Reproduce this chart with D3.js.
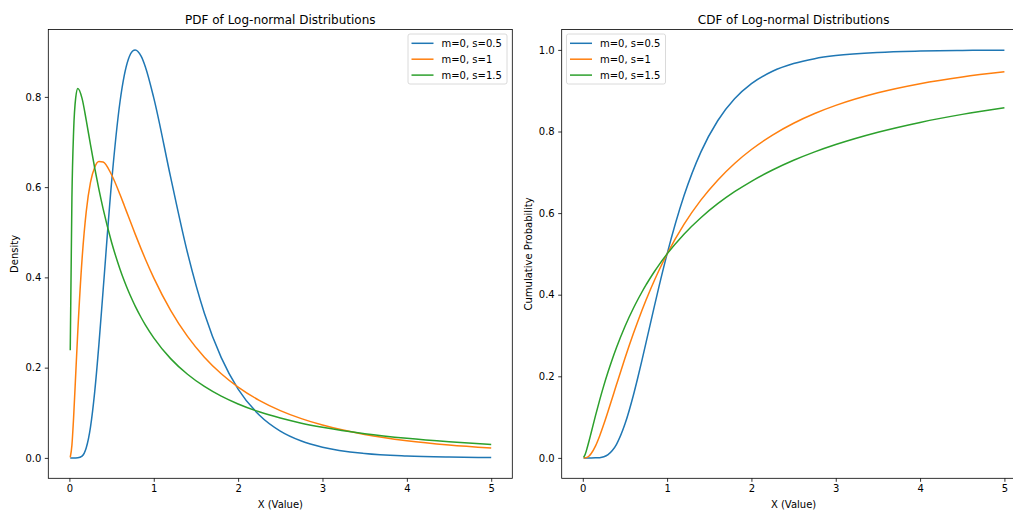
<!DOCTYPE html>
<meta charset="utf-8">
<script src="https://cdn.jsdelivr.net/npm/d3@7"></script>
<style>
  body { margin: 0; background: #fff; overflow: hidden; }
  text { font-family: "DejaVu Sans", sans-serif; fill: #000; }
</style>
<body>
<div id="my_visual"></div>
<script>

// sample x positions
var xs = [0.01, 0.03, 0.05, 0.075, 0.1, 0.15, 0.2, 0.25, 0.3, 0.35, 0.4, 0.5, 0.6, 0.65, 0.7, 0.75, 0.78, 0.85, 0.9,
          1.0, 1.2, 1.4, 1.6, 1.8, 2.0, 2.25, 2.5, 2.75, 3.0, 3.5, 4.0, 4.5, 5.0];

var seriesNames = ["m=0, s=0.5", "m=0, s=1", "m=0, s=1.5"];

// PDF values
var pdfS05 = [0, 0, 0, 0, 0.0002, 0.004, 0.0225, 0.0683, 0.1464, 0.2516, 0.372, 0.6104, 0.7892, 0.8469, 0.8838, 0.9016, 0.9041, 0.8904, 0.867,
              0.7979, 0.6221, 0.4545, 0.3206, 0.2221, 0.1526, 0.0952, 0.0595, 0.0375, 0.0238, 0.0099, 0.0043, 0.0019, 0.0009];
var pdfS1  = [0.001, 0.0284, 0.0898, 0.1857, 0.2816, 0.4399, 0.5463, 0.6104, 0.6442, 0.6569, 0.6555, 0.6275, 0.5836, 0.5594, 0.5348, 0.5104, 0.4959, 0.4632, 0.4408,
              0.3989, 0.327, 0.2692, 0.2232, 0.1865, 0.1569, 0.1276, 0.1049, 0.087, 0.0727, 0.052, 0.0381, 0.0286, 0.0219];
var pdfS15 = [0.2388, 0.5768, 0.724, 0.7983, 0.8187, 0.7968, 0.7479, 0.694, 0.6424, 0.5948, 0.5517, 0.478, 0.4183, 0.3926, 0.3693, 0.3482, 0.3363, 0.3111, 0.2948,
              0.266, 0.22, 0.1853, 0.1583, 0.1368, 0.1195, 0.1021, 0.0883, 0.077, 0.0678, 0.0536, 0.0434, 0.0358, 0.0299];

// CDF values
var cdfS05 = [0, 0, 0, 0, 0, 0.0001, 0.0006, 0.0028, 0.008, 0.0179, 0.0334, 0.0828, 0.1535, 0.1945, 0.2379, 0.2825, 0.3096, 0.3726, 0.4166,
              0.5, 0.6423, 0.7495, 0.8264, 0.8801, 0.9172, 0.9476, 0.9666, 0.9785, 0.986, 0.9939, 0.9972, 0.9987, 0.9994];
var cdfS1  = [0, 0.0002, 0.0014, 0.0048, 0.0107, 0.0289, 0.0538, 0.0829, 0.1143, 0.1469, 0.1797, 0.2441, 0.3047, 0.3333, 0.3607, 0.3868, 0.4019, 0.4354, 0.458,
              0.5, 0.5723, 0.6318, 0.6808, 0.7217, 0.7559, 0.7913, 0.8203, 0.8441, 0.864, 0.8949, 0.9172, 0.9337, 0.9462];
var cdfS15 = [0.0011, 0.0097, 0.0229, 0.0421, 0.0624, 0.1029, 0.1416, 0.1777, 0.211, 0.242, 0.2706, 0.322, 0.3667, 0.387, 0.406, 0.424, 0.4342, 0.4569, 0.472,
              0.5, 0.5484, 0.5887, 0.623, 0.6524, 0.678, 0.7056, 0.7294, 0.75, 0.768, 0.7982, 0.8223, 0.842, 0.8584];

var xTicks = [0, 1, 2, 3, 4, 5];
var pdfTicks = [0.0, 0.2, 0.4, 0.6, 0.8];
var cdfTicks = [0.0, 0.2, 0.4, 0.6, 0.8, 1.0];

var colors = ["#1f77b4", "#ff7f0e", "#2ca02c"];

var W = 1013, H = 510;

var svg = d3.select("#my_visual")
  .append("svg")
    .attr("width", W)
    .attr("height", H)
    .style("display", "block");

function drawPanel(opts) {
  var left = opts.left, right = opts.right, top = 29.5, bottom = 478.3;

  var x = d3.scaleLinear().domain([-0.25, 5.25]).range([left, right]);
  var y = d3.scaleLinear().domain(opts.yDomain).range([bottom, top]);

  var g = svg.append("g");

  // lines
  var line = d3.line()
    .x(function(d) { return x(d[0]); })
    .y(function(d) { return y(d[1]); })
    .curve(d3.curveMonotoneX);

  opts.series.forEach(function(vals, i) {
    g.append("path")
      .datum(xs.map(function(v, j) { return [v, vals[j]]; }))
      .attr("fill", "none")
      .attr("stroke", colors[i])
      .attr("stroke-width", 1.5)
      .attr("d", line);
  });

  // axes
  var xAxis = g.append("g")
    .attr("transform", "translate(0," + bottom + ")")
    .call(d3.axisBottom(x).tickValues(xTicks).tickFormat(d3.format("d")).tickSize(3.5).tickPadding(3.5));
  var yAxis = g.append("g")
    .attr("transform", "translate(" + left + ",0)")
    .call(d3.axisLeft(y).tickValues(opts.yTicks).tickFormat(d3.format(".1f")).tickSize(3.5).tickPadding(3.5));

  [xAxis, yAxis].forEach(function(a) {
    a.select(".domain").remove();
    a.selectAll("line").attr("stroke", "#000").attr("stroke-width", 0.8);
    a.selectAll("text").attr("font-size", 10).style("font-family", "DejaVu Sans");
  });

  // frame
  g.append("rect")
    .attr("x", left).attr("y", top)
    .attr("width", right - left).attr("height", bottom - top)
    .attr("fill", "none")
    .attr("stroke", "#000")
    .attr("stroke-width", 0.8);

  // titles / labels
  g.append("text")
    .attr("x", (left + right) / 2).attr("y", 23.5)
    .attr("text-anchor", "middle")
    .attr("font-size", 12)
    .text(opts.title);

  g.append("text")
    .attr("x", (left + right) / 2).attr("y", 507.5)
    .attr("text-anchor", "middle")
    .attr("font-size", 10)
    .text("X (Value)");

  g.append("text")
    .attr("transform", "translate(" + opts.yLabelX + "," + (top + bottom) / 2 + ") rotate(-90)")
    .attr("text-anchor", "middle")
    .attr("font-size", 10)
    .text(opts.yLabel);

  // legend
  var lg = g.append("g").attr("transform", "translate(" + opts.legendX + ",34)");
  lg.append("rect")
    .attr("x", 0).attr("y", 0)
    .attr("width", 99).attr("height", 50)
    .attr("rx", 2)
    .attr("fill", "#fff").attr("fill-opacity", 0.8)
    .attr("stroke", "#d0d0d0").attr("stroke-width", 0.8);
  seriesNames.forEach(function(name, i) {
    var yy = 9.3 + i * 15.9;
    lg.append("line")
      .attr("x1", 3.5).attr("x2", 25.5)
      .attr("y1", yy).attr("y2", yy)
      .attr("stroke", colors[i]).attr("stroke-width", 1.5);
    lg.append("text")
      .attr("x", 33.5).attr("y", yy + 3.6)
      .attr("font-size", 10)
      .text(name);
  });
}

drawPanel({
  left: 48.3, right: 512.3,
  yDomain: [-0.0452, 0.9493],
  yTicks: pdfTicks,
  series: [pdfS05, pdfS1, pdfS15],
  title: "PDF of Log-normal Distributions",
  yLabel: "Density",
  yLabelX: 17.5,
  legendX: 408
});

// right panel runs past the picture's right edge (cropped in the original)
drawPanel({
  left: 561.7, right: 1025.5,
  yDomain: [-0.05, 1.05],
  yTicks: cdfTicks,
  series: [cdfS05, cdfS1, cdfS15],
  title: "CDF of Log-normal Distributions",
  yLabel: "Cumulative Probability",
  yLabelX: 531.5,
  legendX: 566.5
});

</script>
</body>
